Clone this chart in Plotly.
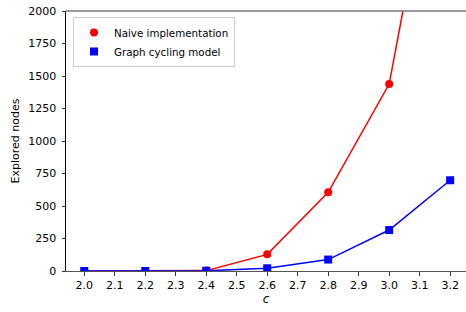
import plotly.graph_objects as go

c_vals = [2.0, 2.2, 2.4, 2.6, 2.8, 3.0, 3.2]
naive = [0, 0, 3, 128, 605, 1438, 3930]
cycling = [0, 0, 2, 21, 88, 315, 698]
x_ticks = [2.0, 2.1, 2.2, 2.3, 2.4, 2.5, 2.6, 2.7, 2.8, 2.9, 3.0, 3.1, 3.2]
y_ticks = [0, 250, 500, 750, 1000, 1250, 1500, 1750, 2000]
series_names = ["Naive implementation", "Graph cycling model"]

font = "DejaVu Sans"
red = "#ff0000"
blue = "#0000ff"

fig = go.Figure()
fig.add_trace(go.Scatter(
    x=c_vals, y=naive, mode="lines+markers", name=series_names[0],
    line=dict(color=red, width=1.5),
    marker=dict(symbol="circle", size=8, color=red),
    cliponaxis=True, showlegend=False,
))
fig.add_trace(go.Scatter(
    x=c_vals, y=cycling, mode="lines+markers", name=series_names[1],
    line=dict(color=blue, width=1.5),
    marker=dict(symbol="square", size=8, color=blue),
    cliponaxis=True, showlegend=False,
))
# legend-only entries (marker only, as in the reference legend)
fig.add_trace(go.Scatter(
    x=[None], y=[None], mode="markers", name=series_names[0],
    marker=dict(symbol="circle", size=8, color=red),
))
fig.add_trace(go.Scatter(
    x=[None], y=[None], mode="markers", name=series_names[1],
    marker=dict(symbol="square", size=8, color=blue),
))

fig.update_layout(
    width=466, height=312,
    margin=dict(l=66, r=0, t=11, b=41, autoexpand=False),
    paper_bgcolor="white", plot_bgcolor="white",
    font=dict(family=font, size=11, color="#000000"),
    showlegend=True,
    legend=dict(
        x=0.0175, y=0.977, xanchor="left", yanchor="top",
        bgcolor="rgba(255,255,255,0.8)", bordercolor="#cccccc", borderwidth=1,
        font=dict(family=font, size=10.3),
        itemwidth=30, tracegroupgap=0,
    ),
    xaxis=dict(
        range=[1.94, 3.252], tickvals=x_ticks, tickformat=".1f",
        showgrid=False, zeroline=False, automargin=False,
        showline=True, linecolor="#555555", linewidth=1, mirror=False,
        ticks="outside", ticklen=3.5, tickwidth=1, tickcolor="#333333",
        tickfont=dict(size=11),
        title=dict(text="<i>c</i>", font=dict(family=font, size=12), standoff=3),
    ),
    yaxis=dict(
        range=[0, 2000], tickvals=y_ticks,
        showgrid=False, zeroline=False, automargin=False,
        showline=True, linecolor="#000000", linewidth=1,
        ticks="outside", ticklen=3.5, tickwidth=1, tickcolor="#333333",
        tickfont=dict(size=11), ticklabelstandoff=3,
        title=dict(text="Explored nodes", font=dict(family=font, size=11), standoff=6),
    ),
    shapes=[dict(type="line", xref="paper", yref="paper", x0=0, x1=1, y0=1, y1=1,
                 line=dict(color="#777777", width=1.5))],
)

fig.write_html(
    "out.html",
    config={"displayModeBar": False},
    post_script="document.body.style.margin='0';document.body.style.padding='0';",
)
